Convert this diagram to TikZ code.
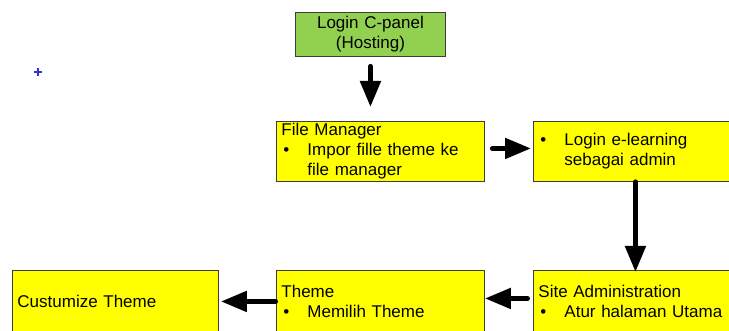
\documentclass[tikz,border=0pt]{standalone}
\usepackage{fontspec}
\setmainfont{Liberation Sans}
\usetikzlibrary{arrows.meta,calc}
\definecolor{boxgreen}{HTML}{92D050}
\definecolor{boxyellow}{HTML}{FFFF00}
\definecolor{boxline}{HTML}{3C3C3C}
\definecolor{markblue}{HTML}{3333CC}
% bullet item and its hanging indent
\newcommand{\bul}{\makebox[26pt][l]{\hspace{2pt}\textbullet}}
\newcommand{\hng}{\hspace*{26pt}}

\begin{document}
\begin{tikzpicture}[x=1pt,y=-1pt,
  box/.style={draw=boxline, line width=0.9pt, fill=boxyellow, anchor=north west,
    inner xsep=5pt, inner ysep=0pt, align=left,
    font=\fontsize{17}{20}\selectfont},
  flow/.style={line width=5pt, line cap=round,
    -{Triangle[length=26pt,width=20pt]}}]
\useasboundingbox (0,0) rectangle (729,331);
\clip (0,0) rectangle (729,331);

% boxes
\node[box, fill=boxgreen, align=center, text width=140pt, minimum height=44pt]
  (cpanel) at (295,12) {Login C-panel\\(Hosting)};
\node[box, text width=198pt, minimum height=60pt]
  (files) at (276,121) {File Manager\\\bul Impor fille theme ke\\\hng file manager};
\node[box, text width=190pt, minimum height=60pt]
  (elearn) at (533,121) {\bul Login e-learning\\\hng sebagai admin};
\node[box, text width=190pt, minimum height=62pt]
  (site) at (533,270) {Site Administration\\\bul Atur halaman Utama};
\node[box, text width=198pt, minimum height=62pt]
  (theme) at (276,270) {Theme\\\bul Memilih Theme};
\node[box, text width=196pt, minimum height=62pt]
  (custom) at (12,270) {Custumize Theme};

% connectors
\draw[flow, shorten <=9.5pt, shorten >=14pt] (cpanel.south) -- (cpanel.south |- files.north);
\draw[flow, shorten <=7.5pt, shorten >=2pt] ([yshift=3pt]files.east) -- ([yshift=3pt]files.east -| elearn.west);
\draw[flow, shorten >=-2pt] ([xshift=2pt]elearn.south) -- ([xshift=2pt]elearn.south |- site.north);
\draw[flow, shorten <=5.5pt] ([yshift=3pt]site.west) -- ([yshift=3pt]site.west -| theme.east);
\draw[flow, shorten <=0.5pt, shorten >=2pt] (theme.west) -- (theme.west -| custom.east);

% small marker
\draw[markblue, line width=1.2pt] (34,72) -- (42,72) (38,68) -- (38,76);
\end{tikzpicture}
\end{document}
